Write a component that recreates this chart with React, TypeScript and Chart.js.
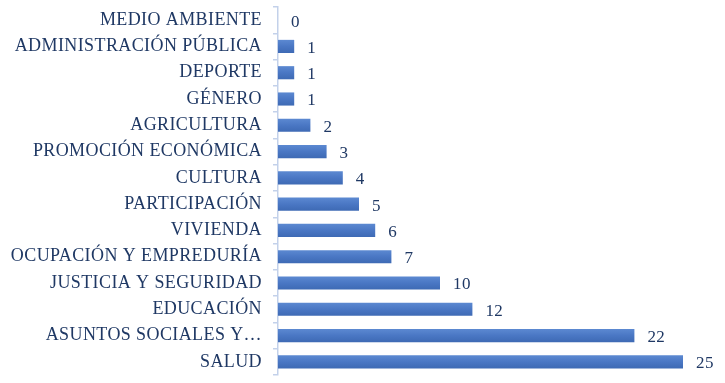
import React, { useEffect, useRef } from "react";
import { Chart, registerables } from "chart.js";

Chart.register(...registerables);

const categories = [
  "MEDIO AMBIENTE",
  "ADMINISTRACIÓN PÚBLICA",
  "DEPORTE",
  "GÉNERO",
  "AGRICULTURA",
  "PROMOCIÓN ECONÓMICA",
  "CULTURA",
  "PARTICIPACIÓN",
  "VIVIENDA",
  "OCUPACIÓN Y EMPREDURÍA",
  "JUSTICIA Y SEGURIDAD",
  "EDUCACIÓN",
  "ASUNTOS SOCIALES Y…",
  "SALUD",
];
const values = [0, 1, 1, 1, 2, 3, 4, 5, 6, 7, 10, 12, 22, 25];

const TEXT_COLOR = "#1F3864";
const AXIS_COLOR = "#C3D1EA";
const FONT_FAMILY = "'Liberation Serif', 'Times New Roman', serif";

const spacing = {
  id: "spacing",
  beforeLayout(chart: any) {
    (chart.ctx as any).letterSpacing = "0.4px";
  },
  beforeDraw(chart: any) {
    (chart.ctx as any).letterSpacing = "0.4px";
  },
};

const valueLabels = {
  id: "valueLabels",
  afterDatasetsDraw(chart: any) {
    const ctx = chart.ctx;
    const meta = chart.getDatasetMeta(0);
    ctx.save();
    ctx.font = `17px ${FONT_FAMILY}`;
    ctx.fillStyle = TEXT_COLOR;
    ctx.textAlign = "left";
    ctx.textBaseline = "middle";
    meta.data.forEach((el: any, i: number) => {
      ctx.fillText(String(values[i]), el.x + 13, el.y + 2);
    });
    ctx.restore();
  },
};

export default function App() {
  const ref = useRef<HTMLCanvasElement>(null);
  useEffect(() => {
    if (!ref.current) return;
    const chart = new Chart(ref.current, {
      type: "bar",
      data: {
        labels: categories,
        datasets: [
          {
            data: values,
            backgroundColor: (c: any) => {
              const ch = c.chart;
              const ys = ch.scales && ch.scales.y;
              if (!ys || c.dataIndex === undefined) return "#4472C4";
              const cy = ys.getPixelForValue(c.dataIndex);
              if (!Number.isFinite(cy)) return "#4472C4";
              const g = ch.ctx.createLinearGradient(0, cy - 7, 0, cy + 7);
              g.addColorStop(0, "#5D8AD2");
              g.addColorStop(0.5, "#4A77C4");
              g.addColorStop(1, "#3D69B3");
              return g;
            },
            borderWidth: 0,
            barPercentage: 0.5,
            categoryPercentage: 1,
          },
        ],
      },
      options: {
        indexAxis: "y",
        animation: false,
        responsive: false,
        maintainAspectRatio: false,
        layout: { padding: { top: 7, bottom: 8, right: 42, left: 0 } },
        plugins: {
          legend: { display: false },
          tooltip: { enabled: false },
        },
        scales: {
          x: {
            display: false,
            min: 0,
            max: 25,
          },
          y: {
            afterFit: (scale: any) => {
              scale.width = 278;
              scale.paddingTop = 0;
              scale.paddingBottom = 0;
            },
            grid: {
              display: true,
              drawOnChartArea: false,
              offset: true,
              tickLength: 5,
              color: AXIS_COLOR,
              lineWidth: 1.5,
            },
            border: { display: true, color: AXIS_COLOR, width: 1.5 },
            ticks: {
              padding: 11,
              color: TEXT_COLOR,
              autoSkip: false,
              font: { family: FONT_FAMILY, size: 18 },
            },
          },
        },
      },
      plugins: [spacing, valueLabels],
    } as any);
    return () => chart.destroy();
  }, []);
  return (
    <div style={{ position: "fixed", left: 0, top: 0, width: 725, height: 383, background: "#fff" }}>
      <canvas ref={ref} width={725} height={383} style={{ width: 725, height: 383 }} />
    </div>
  );
}
